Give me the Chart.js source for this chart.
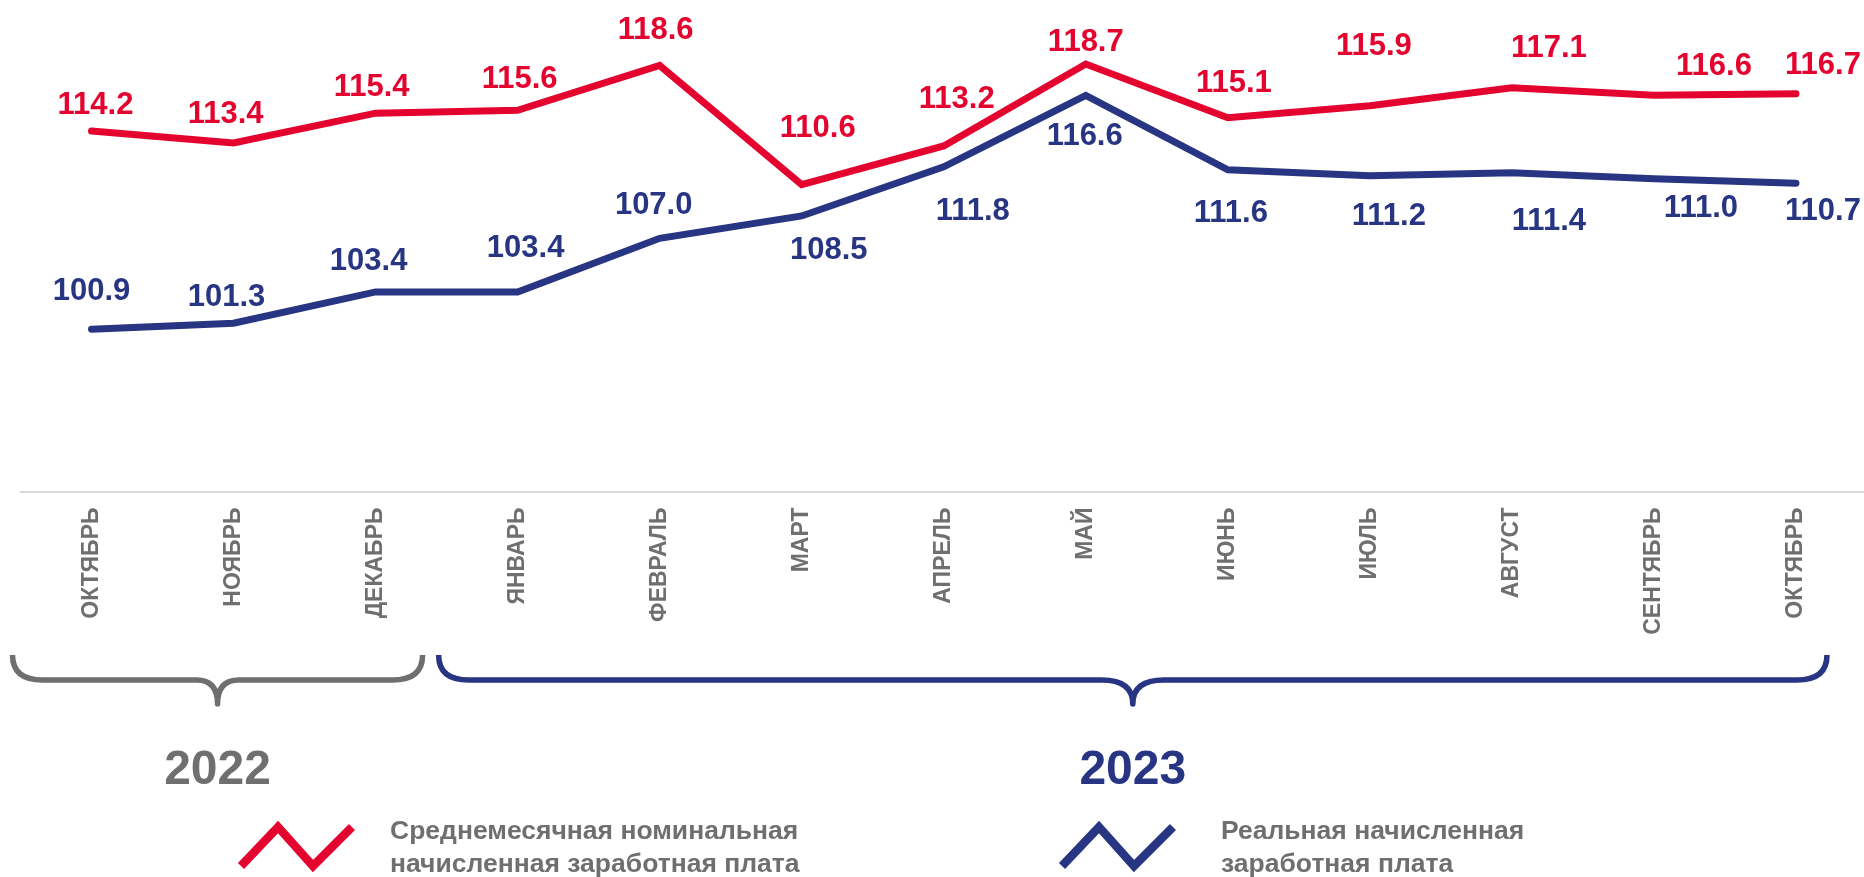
<!DOCTYPE html>
<html lang="ru">
<head>
<meta charset="utf-8">
<title>Заработная плата</title>
<script src="https://cdn.jsdelivr.net/npm/chart.js@4.4.0/dist/chart.umd.min.js"></script>
<style>
  html, body { margin: 0; padding: 0; background: #fff; overflow: hidden; }
  #wrap { position: absolute; left: 0; top: 0; width: 1867px; height: 877px; }
</style>
</head>
<body>
<div id="wrap"><canvas id="wage-chart"></canvas></div>
<script>
// месяцы
const months = ['ОКТЯБРЬ', 'НОЯБРЬ', 'ДЕКАБРЬ', 'ЯНВАРЬ', 'ФЕВРАЛЬ', 'МАРТ', 'АПРЕЛЬ',
                'МАЙ', 'ИЮНЬ', 'ИЮЛЬ', 'АВГУСТ', 'СЕНТЯБРЬ', 'ОКТЯБРЬ'];
// номинальная / реальная, % к соотв. периоду прошлого года
const nominalWage = [114.2, 113.4, 115.4, 115.6, 118.6, 110.6, 113.2, 118.7, 115.1, 115.9, 117.1, 116.6, 116.7];
const realWage = [100.9, 101.3, 103.4, 103.4, 107.0, 108.5, 111.8, 116.6, 111.6, 111.2, 111.4, 111.0, 110.7];
const seriesNames = ['Среднемесячная номинальная\nначисленная заработная плата', 'Реальная начисленная\nзаработная плата'];
const years = ['2022', '2023'];

const RED = '#e4032e';
const BLUE = '#283583';
const GREY = '#6f6f6f';
const FONT = "'Liberation Sans', Arial, sans-serif";

// сдвиги подписей значений относительно точек [dx, dy]
const labelShift = [
    [[4, -28], [-8, -31], [-4, -28], [2, -33], [-4, -38], [16, -59], [13, -49],
     [0, -24], [6, -37], [4, -62], [37, -42], [60, -31], [27, -31]],
    [[0, -40], [-7, -28], [-7, -33], [8, -46], [-6, -35], [27, 32], [29, 42],
     [-1, 39], [3, 41], [19, 38], [37, 46], [47, 27], [27, 26]]
];

// подписи значений
const valueLabels = {
    id: 'valueLabels',
    afterDatasetsDraw(chart) {
        const ctx = chart.ctx;
        const size = 31;
        ctx.save();
        ctx.font = 'bold ' + size + 'px ' + FONT;
        ctx.textAlign = 'center';
        ctx.textBaseline = 'alphabetic';
        chart.data.datasets.forEach((ds, di) => {
            const meta = chart.getDatasetMeta(di);
            ctx.fillStyle = ds.borderColor;
            meta.data.forEach((pt, i) => {
                const [dx, dy] = labelShift[di][i];
                ctx.fillText(ds.data[i].toFixed(1), pt.x + dx, pt.y + dy + size * 0.358);
            });
        });
        ctx.restore();
    }
};

function brace(ctx, x1, x2, yTop, yMid, yTip, r, r2, color) {
    const xm = (x1 + x2) / 2;
    ctx.beginPath();
    ctx.moveTo(x1, yTop);
    ctx.quadraticCurveTo(x1, yMid, x1 + r, yMid);
    ctx.lineTo(xm - r2, yMid);
    ctx.quadraticCurveTo(xm, yMid, xm, yTip);
    ctx.quadraticCurveTo(xm, yMid, xm + r2, yMid);
    ctx.lineTo(x2 - r, yMid);
    ctx.quadraticCurveTo(x2, yMid, x2, yTop);
    ctx.strokeStyle = color;
    ctx.lineWidth = 5.5;
    ctx.lineJoin = 'round';
    ctx.stroke();
}

// фигурные скобки, годы, легенда
const decorations = {
    id: 'decorations',
    afterDraw(chart) {
        const ctx = chart.ctx;
        const x = chart.scales.x;
        ctx.save();

        const groups = [
            { from: 0, to: 2, left: 79, right: 47, r2: 21, color: GREY },
            { from: 3, to: 12, left: 79, right: 31, r2: 31, color: BLUE }
        ];
        groups.forEach((g, gi) => {
            const x1 = x.getPixelForValue(g.from) - g.left;
            const x2 = x.getPixelForValue(g.to) + g.right;
            brace(ctx, x1, x2, 655, 680, 704, 30, g.r2, g.color);
            ctx.fillStyle = g.color;
            ctx.font = 'bold 48px ' + FONT;
            ctx.textAlign = 'center';
            ctx.textBaseline = 'alphabetic';
            ctx.fillText(years[gi], (x1 + x2) / 2, 767 + 48 * 0.358);
        });

        const legendItems = [
            { icon: 241, text: 390, lines: [830, 863] },
            { icon: 1062, text: 1221, lines: [830, 863] }
        ];
        chart.data.datasets.forEach((ds, di) => {
            const it = legendItems[di];
            const ix = it.icon;
            ctx.beginPath();
            ctx.moveTo(ix, 866);
            ctx.lineTo(ix + 37, 827);
            ctx.lineTo(ix + 72, 866);
            ctx.lineTo(ix + 111, 827);
            ctx.strokeStyle = ds.borderColor;
            ctx.lineWidth = 8.5;
            ctx.lineJoin = 'miter';
            ctx.lineCap = 'butt';
            ctx.stroke();

            ctx.fillStyle = GREY;
            ctx.font = 'bold 26.5px ' + FONT;
            ctx.textAlign = 'left';
            ds.label.split('\n').forEach((line, li) => {
                ctx.fillText(line, it.text, it.lines[li] + 26.5 * 0.358);
            });
        });
        ctx.restore();
    }
};

const ctx = document.getElementById('wage-chart').getContext('2d');

new Chart(ctx, {
    type: 'line',
    data: {
        labels: months,
        datasets: [
            {
                label: seriesNames[0],
                data: nominalWage,
                borderColor: RED,
                backgroundColor: RED,
                borderWidth: 7,
                borderCapStyle: 'round',
                borderJoinStyle: 'miter',
                pointRadius: 0,
                tension: 0
            },
            {
                label: seriesNames[1],
                data: realWage,
                borderColor: BLUE,
                backgroundColor: BLUE,
                borderWidth: 7,
                borderCapStyle: 'round',
                borderJoinStyle: 'miter',
                pointRadius: 0,
                tension: 0
            }
        ]
    },
    options: {
        responsive: true,
        maintainAspectRatio: false,
        animation: false,
        layout: { padding: { left: 20.5, right: 0, top: 0, bottom: 0 } },
        plugins: {
            legend: { display: false },
            tooltip: { enabled: false }
        },
        scales: {
            x: {
                offset: true,
                grid: { display: false, drawTicks: false },
                border: { display: true, color: '#d9d9d9', width: 2 },
                ticks: {
                    autoSkip: false,
                    minRotation: 90,
                    maxRotation: 90,
                    padding: 16,
                    color: GREY,
                    font: { family: FONT, size: 23, weight: 'bold' }
                },
                afterFit(scale) { scale.height = 385.5; }
            },
            y: {
                display: false,
                min: 90,
                max: 123
            }
        }
    },
    plugins: [valueLabels, decorations]
});
</script>
</body>
</html>
